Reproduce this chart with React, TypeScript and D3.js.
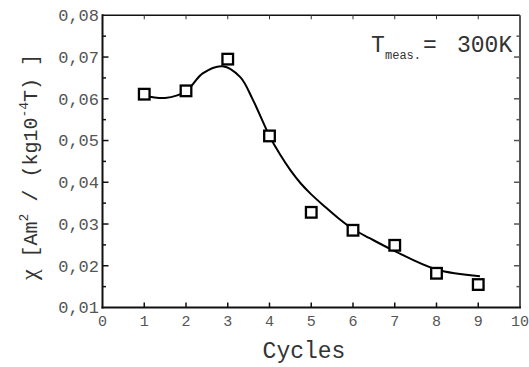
import React from "react";
import * as d3 from "d3";

const cycles = [1, 2, 3, 4, 5, 6, 7, 8, 9];
const chi = [0.0611, 0.0619, 0.0695, 0.0511, 0.0328, 0.0285, 0.0249, 0.0182, 0.0155];
const fitX = [1, 1.5, 2, 2.4, 2.88, 3.3, 3.6, 4, 4.25, 4.5, 4.75, 5, 5.3, 5.65, 6, 6.4, 7, 8, 9.04];
const fitY = [0.0608, 0.0602, 0.0618, 0.0661, 0.0678, 0.0652, 0.0598, 0.0511, 0.0467, 0.0429, 0.0397, 0.0371, 0.0344, 0.0314, 0.0288, 0.0266, 0.0235, 0.0191, 0.0175];
const xTicks = [0, 1, 2, 3, 4, 5, 6, 7, 8, 9, 10];
const yTicks = [0.01, 0.02, 0.03, 0.04, 0.05, 0.06, 0.07, 0.08];
const yMinor = [0.015, 0.025, 0.035, 0.045, 0.055, 0.065, 0.075];

const FONT = "'Liberation Mono', 'DejaVu Sans Mono', monospace";

export default function App() {
  const L = 102.5, R = 520, T = 15.3, B = 307.5;
  const x = d3.scaleLinear().domain([0, 10]).range([L, R]);
  const y = d3.scaleLinear().domain([0.01, 0.08]).range([B, T]);
  const fmt = (v: number) => d3.format(".2f")(v).replace(".", ",");
  const line = d3
    .line<number>()
    .x((_, i) => x(fitX[i]))
    .y((d) => y(d))
    .curve(d3.curveCatmullRom.alpha(0.5));

  return (
    <svg
      width={529}
      height={367}
      style={{ position: "absolute", left: 0, top: 0, background: "#fff" }}
    >
      {/* frame */}
      <line x1={L} x2={R} y1={T} y2={T} stroke="#111" strokeWidth={1.5} />
      <line x1={R} x2={R} y1={T} y2={B} stroke="#555" strokeWidth={2} />
      <line x1={L} x2={L} y1={T - 1} y2={B + 1} stroke="#111" strokeWidth={2} />
      <line x1={L - 1} x2={R + 1} y1={B} y2={B} stroke="#111" strokeWidth={2} />

      {/* x ticks */}
      {xTicks.map((t) => (
        <g key={"x" + t}>
          {t > 0 && t < 10 && (
            <>
              <line x1={x(t)} x2={x(t)} y1={B} y2={B - 5} stroke="#111" strokeWidth={1.5} />
              <line x1={x(t)} x2={x(t)} y1={T} y2={T + 4} stroke="#333" strokeWidth={1} />
            </>
          )}
          <text
            x={x(t)}
            y={326}
            textAnchor="middle"
            fontFamily={FONT}
            fontSize={15}
            fill="#555"
          >
            {t}
          </text>
        </g>
      ))}

      {/* y ticks */}
      {yTicks.map((t) => (
        <g key={"y" + t}>
          {t > 0.01 && t < 0.08 && (
            <>
              <line x1={L} x2={L + 6} y1={y(t)} y2={y(t)} stroke="#111" strokeWidth={1.5} />
              <line x1={R} x2={R - 6} y1={y(t)} y2={y(t)} stroke="#555" strokeWidth={1.5} />
            </>
          )}
          <text
            x={99}
            y={y(t)}
            dy="0.35em"
            textAnchor="end"
            fontFamily={FONT}
            fontSize={17}
            fill="#555"
          >
            {fmt(t)}
          </text>
        </g>
      ))}
      {yMinor.map((t) => (
        <g key={"m" + t}>
          <line x1={L} x2={L + 3.5} y1={y(t)} y2={y(t)} stroke="#111" strokeWidth={1.5} />
          <line x1={R} x2={R - 3.5} y1={y(t)} y2={y(t)} stroke="#555" strokeWidth={1.5} />
        </g>
      ))}

      {/* fit curve */}
      <path d={line(fitY) || ""} fill="none" stroke="#000" strokeWidth={2} />

      {/* points */}
      {cycles.map((c, i) => (
        <rect
          key={"p" + c}
          x={x(c) - 5.3}
          y={y(chi[i]) - 5.3}
          width={10.6}
          height={10.6}
          fill="#fff"
          stroke="#000"
          strokeWidth={2.3}
        />
      ))}

      {/* annotation */}
      <text x={371} y={51.5} fontFamily={FONT} fontSize={23} fill="#333">
        T
      </text>
      <text x={385} y={58.5} fontFamily={FONT} fontSize={12} fill="#333">
        meas.
      </text>
      <text x={423} y={51.5} fontFamily={FONT} fontSize={23} fill="#333">
        =
      </text>
      <text x={457} y={51.5} fontFamily={FONT} fontSize={23} fill="#333">
        300K
      </text>

      {/* x title */}
      <text
        x={304}
        y={358}
        textAnchor="middle"
        fontFamily={FONT}
        fontSize={23}
        fill="#333"
      >
        Cycles
      </text>

      {/* y title */}
      <text
        transform="translate(37,167) rotate(-90)"
        textAnchor="middle"
        fontFamily={FONT}
        fontSize={20}
        fill="#333"
      >
        <tspan fontFamily="'Liberation Serif', serif" fontSize={24}>χ</tspan>
        <tspan> [Am</tspan>
        <tspan fontSize={13} dy={-9}>2</tspan>
        <tspan dy={9}> / (kg10</tspan>
        <tspan fontSize={13} dy={-9}>-4</tspan>
        <tspan dy={9}>T) ]</tspan>
      </text>
    </svg>
  );
}
